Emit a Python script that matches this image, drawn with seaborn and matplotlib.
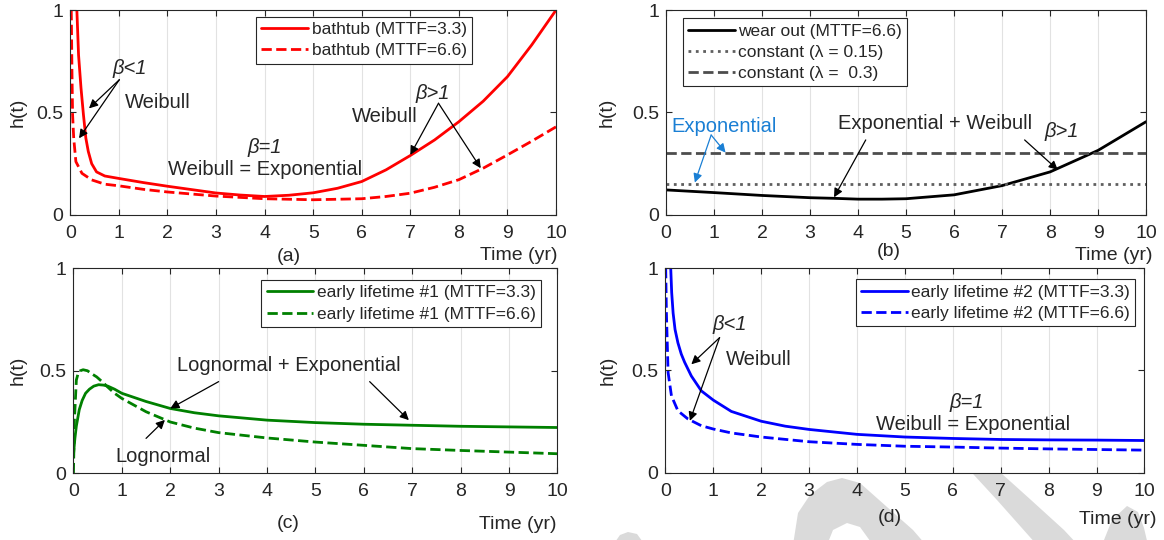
import numpy as np
import pandas as pd
import matplotlib
matplotlib.use("Agg")
import matplotlib.pyplot as plt
from matplotlib.patches import Polygon
import seaborn as sns

# ---- data ----
# (a) bathtub
a_t_33 = [0.135, 0.17, 0.22, 0.27, 0.32, 0.37, 0.44, 0.54, 0.71, 1.0, 1.5, 2.0, 3.0, 3.5, 4.0,
          4.5, 5.0, 5.5, 6.0, 6.5, 7.0, 7.5, 8.0, 8.5, 9.0, 9.5, 10.0]
a_h_33 = [1.0, 0.78, 0.62, 0.49, 0.375, 0.31, 0.25, 0.21, 0.19, 0.178, 0.158, 0.14, 0.107, 0.097, 0.09,
          0.096, 0.108, 0.13, 0.163, 0.22, 0.29, 0.366, 0.455, 0.555, 0.675, 0.83, 1.0]
a_t_66 = [0.02, 0.034, 0.047, 0.07, 0.115, 0.24, 0.44, 0.71, 1.0, 1.5, 2.0, 3.0, 4.0, 5.0, 6.0,
          6.5, 7.0, 7.5, 8.0, 8.5, 9.0, 9.5, 10.0]
a_h_66 = [1.0, 0.70, 0.49, 0.375, 0.26, 0.203, 0.171, 0.15, 0.142, 0.125, 0.112, 0.092, 0.079, 0.074, 0.079,
          0.09, 0.106, 0.135, 0.172, 0.228, 0.293, 0.36, 0.43]

# (b) wear out + constants
b_t = [0, 1, 2, 3, 3.5, 4, 4.5, 5, 6, 7, 8, 9, 10]
b_h = [0.122, 0.109, 0.095, 0.084, 0.081, 0.077, 0.077, 0.079, 0.098, 0.143, 0.21, 0.315, 0.455]
const_t = [0, 10]
const_low = [0.15, 0.15]
const_high = [0.3, 0.3]

# (c) early lifetime #1
c_t_33 = [0, 0.03, 0.06, 0.12, 0.18, 0.25, 0.33, 0.42, 0.52, 0.62, 0.71, 0.85, 1.0, 1.5, 2.0, 2.5,
          3, 4, 5, 6, 7, 8, 9, 10]
c_h_33 = [0.09, 0.17, 0.23, 0.31, 0.355, 0.39, 0.41, 0.425, 0.432, 0.43, 0.425, 0.41, 0.39, 0.35, 0.316, 0.295,
          0.28, 0.259, 0.247, 0.239, 0.234, 0.229, 0.226, 0.223]
c_t_66 = [0, 0.02, 0.06, 0.1, 0.14, 0.2, 0.29, 0.38, 0.48, 0.6, 0.71, 0.85, 1.0, 1.5, 2, 2.5,
          3, 4, 5, 6, 7, 8, 9, 10]
c_h_66 = [0.0, 0.26, 0.455, 0.49, 0.50, 0.505, 0.50, 0.485, 0.47, 0.445, 0.42, 0.39, 0.365, 0.3, 0.25, 0.22,
          0.198, 0.172, 0.152, 0.136, 0.12, 0.111, 0.103, 0.095]

# (d) early lifetime #2
d_t_33 = [0.11, 0.13, 0.16, 0.2, 0.26, 0.33, 0.40, 0.54, 0.75, 1.0, 1.375, 2, 2.5, 3, 4, 5, 6, 7, 8, 9, 10]
d_h_33 = [1.0, 0.88, 0.78, 0.7, 0.635, 0.58, 0.54, 0.473, 0.40, 0.355, 0.30, 0.252, 0.228, 0.212, 0.188,
          0.175, 0.168, 0.163, 0.161, 0.16, 0.158]
d_t_66 = [0.005, 0.02, 0.055, 0.125, 0.26, 0.47, 0.75, 1.0, 1.375, 2, 3, 4, 5, 6, 7, 8, 9, 10]
d_h_66 = [1.0, 0.78, 0.49, 0.376, 0.303, 0.263, 0.23, 0.214, 0.195, 0.175, 0.152, 0.139, 0.13, 0.126,
          0.121, 0.117, 0.114, 0.111]

x_ticks = list(range(11))
y_ticks = [0, 0.5, 1]
y_tick_labels = ["0", "0.5", "1"]

sns.set_style("ticks")
plt.rcParams["font.family"] = ["Liberation Sans", "DejaVu Sans"]

INK = "#262626"
TXT = 14.5
fig = plt.figure(figsize=(11.64, 5.4), dpi=100)

ax_a = fig.add_axes([0.0604, 0.602, 0.4173, 0.3794])
ax_b = fig.add_axes([0.5722, 0.602, 0.4124, 0.3794])
ax_c = fig.add_axes([0.0631, 0.1237, 0.4158, 0.3794])
ax_d = fig.add_axes([0.5717, 0.1243, 0.4115, 0.3794])


def line(ax, t, h, color, ls, label, lw=2.0):
    df = pd.DataFrame({"t": t, "h": h})
    sns.lineplot(data=df, x="t", y="h", ax=ax, color=color, linestyle=ls, lw=lw,
                 label=label, sort=False)


def arrow(ax, src, dst, color="k"):
    ax.annotate("", xy=dst, xytext=src,
                arrowprops=dict(arrowstyle="-|>", color=color, lw=0.9,
                                mutation_scale=13, shrinkA=0, shrinkB=0))


def note(ax, x, y, s, **kw):
    ax.text(x, y, s, ha="center", va="center", fontsize=TXT, **kw)


def style(ax, tag, lab_x, tag_pos, time_pos, leg_loc, leg_anchor):
    ax.set_xlim(0, 10)
    ax.set_ylim(0, 1)
    ax.set_xticks(x_ticks)
    ax.set_yticks(y_ticks)
    ax.set_yticklabels(y_tick_labels)
    ax.grid(axis="x", color="#e2e2e2", lw=0.8)
    ax.set_axisbelow(True)
    for sp in ax.spines.values():
        sp.set_visible(True)
        sp.set_color(INK)
        sp.set_linewidth(0.8)
    ax.tick_params(direction="in", top=True, right=True, length=4, width=0.8,
                   colors=INK, labelsize=14)
    ax.tick_params(axis="x", pad=7)
    ax.tick_params(axis="y", pad=5)
    ax.set_xlabel("")
    ax.set_ylabel("h(t)", fontsize=14, color=INK)
    ax.yaxis.set_label_coords(lab_x, 0.5)
    ax.text(tag_pos[0], tag_pos[1], tag, transform=ax.transAxes, ha="center",
            va="center", fontsize=14, color=INK)
    ax.text(time_pos[0], time_pos[1], "Time (yr)", transform=ax.transAxes, ha="right",
            va="center", fontsize=14, color=INK)
    leg = ax.legend(loc=leg_loc, bbox_to_anchor=leg_anchor, fontsize=12.5, frameon=True,
                    fancybox=False, framealpha=1, edgecolor=INK, handlelength=2.7,
                    handletextpad=0.2, labelspacing=0.35, borderpad=0.3, borderaxespad=0)
    leg.get_frame().set_linewidth(0.8)


# (a)
line(ax_a, a_t_33, a_h_33, "#ff0000", "-", "bathtub (MTTF=3.3)")
line(ax_a, a_t_66, a_h_66, "#ff0000", "--", "bathtub (MTTF=6.6)")
style(ax_a, "(a)", -0.09, (0.449, -0.205), (1.002, -0.2), "upper right", (0.827, 0.967))
note(ax_a, 1.22, 0.715, "β<1", style="italic")
arrow(ax_a, (1.01, 0.66), (0.385, 0.52))
arrow(ax_a, (1.01, 0.66), (0.18, 0.374))
note(ax_a, 1.8, 0.55, "Weibull")
note(ax_a, 4.0, 0.33, "β=1", style="italic")
note(ax_a, 4.0, 0.22, "Weibull = Exponential")
note(ax_a, 7.47, 0.595, "β>1", style="italic")
note(ax_a, 6.48, 0.48, "Weibull")
arrow(ax_a, (7.58, 0.545), (7.0, 0.293))
arrow(ax_a, (7.58, 0.545), (8.45, 0.228))

# (b)
line(ax_b, b_t, b_h, "k", "-", "wear out (MTTF=6.6)")
line(ax_b, const_t, const_low, "#5f5f5f", ":", "constant (λ = 0.15)")
line(ax_b, const_t, const_high, "#4d4d4d", "--", "constant (λ =  0.3)")
style(ax_b, "(b)", -0.106, (0.464, -0.18), (1.0125, -0.196), "upper left", (0.035, 0.96))
note(ax_b, 1.2, 0.43, "Exponential", color="#1a7fd4")
arrow(ax_b, (0.94, 0.39), (1.24, 0.304), color="#1a7fd4")
arrow(ax_b, (0.94, 0.39), (0.6, 0.158), color="#1a7fd4")
note(ax_b, 5.61, 0.444, "Exponential + Weibull")
arrow(ax_b, (4.16, 0.366), (3.5, 0.086))
note(ax_b, 8.24, 0.407, "β>1", style="italic")
arrow(ax_b, (7.47, 0.366), (8.16, 0.22))

# (c)
line(ax_c, c_t_33, c_h_33, "#008000", "-", "early lifetime #1 (MTTF=3.3)")
line(ax_c, c_t_66, c_h_66, "#008000", "--", "early lifetime #1 (MTTF=6.6)")
style(ax_c, "(c)", -0.097, (0.444, -0.245), (0.9986, -0.248), "upper right", (0.966, 0.943))
note(ax_c, 4.45, 0.524, "Lognormal + Exponential")
arrow(ax_c, (3.0, 0.447), (2.0, 0.316))
arrow(ax_c, (6.12, 0.447), (6.93, 0.259))
note(ax_c, 1.85, 0.08, "Lognormal")
arrow(ax_c, (1.5, 0.17), (1.89, 0.26))

# (d)
line(ax_d, d_t_33, d_h_33, "#0000ff", "-", "early lifetime #2 (MTTF=3.3)")
line(ax_d, d_t_66, d_h_66, "#0000ff", "--", "early lifetime #2 (MTTF=6.6)")
style(ax_d, "(d)", -0.101, (0.469, -0.217), (1.0255, -0.23), "upper right", (0.981, 0.945))
note(ax_d, 1.34, 0.724, "β<1", style="italic")
arrow(ax_d, (1.13, 0.66), (0.54, 0.53))
arrow(ax_d, (1.13, 0.66), (0.51, 0.254))
note(ax_d, 1.95, 0.555, "Weibull")
note(ax_d, 6.3, 0.343, "β=1", style="italic")
note(ax_d, 6.42, 0.237, "Weibull = Exponential")

# faint grey watermark strokes behind the axes (pixel outlines)
W, H = 1164.0, 540.0
wm_shapes = [
    [(793, 545), (798, 513), (810, 495), (827, 482), (842, 478), (860, 483), (887, 507),
     (913, 530), (926, 545), (873, 545), (860, 527), (847, 523), (833, 530), (827, 545)],
    [(955, 450), (974, 475), (997, 500), (1037, 545), (1078, 545), (1064, 530), (1031, 500),
     (1001, 473), (985, 450)],
    [(1102, 545), (1112, 520), (1127, 506), (1138, 512), (1144, 528), (1148, 545)],
    [(613, 545), (620, 535), (628, 532), (637, 534), (645, 545)],
]
for shp in wm_shapes:
    pts = [(x / W, 1 - y / H) for x, y in shp]
    fig.add_artist(Polygon(pts, closed=True, transform=fig.transFigure,
                           facecolor="#dadada", edgecolor="none", zorder=-1))

fig.savefig("out.png", dpi=100)
